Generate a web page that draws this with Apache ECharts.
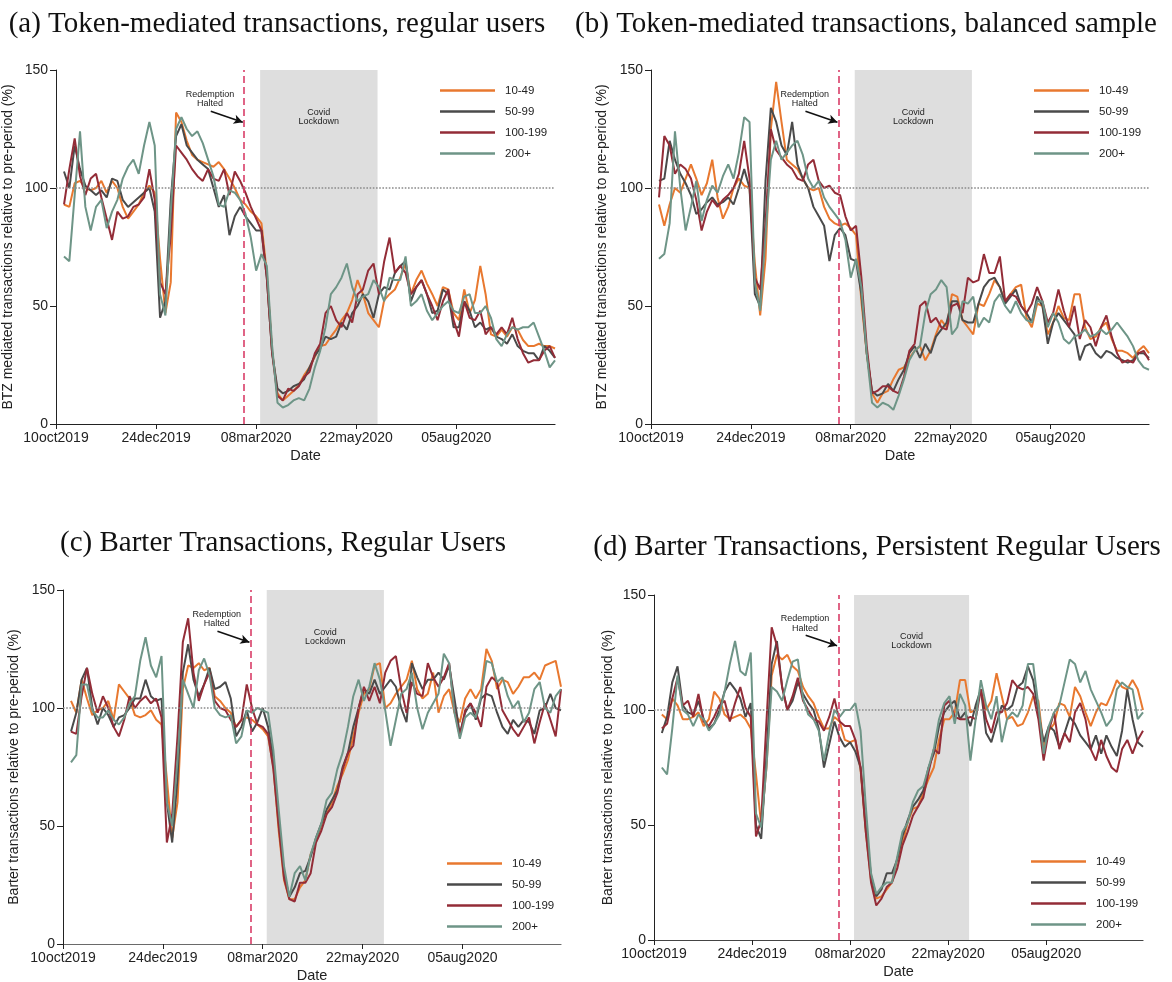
<!DOCTYPE html>
<html>
<head>
<meta charset="utf-8">
<title>BTZ and barter transactions by user group</title>
<script src="https://cdn.jsdelivr.net/npm/echarts@6/dist/echarts.min.js"></script>
<style>
  html, body { margin: 0; padding: 0; background: #ffffff; }
  #chart { width: 1172px; height: 982px; }
</style>
</head>
<body>
<div id="chart"></div>
<script>
// ---------------------------------------------------------------------------
// Data: 7-day smoothed activity relative to the pre-period (%), one value
// every 4 days starting 16 Oct 2019, for four user groups.
// ---------------------------------------------------------------------------
const AXIS_ORIGIN = '2019-10-10';
const FIRST_SAMPLE = '2019-10-16';
const SAMPLE_STEP_DAYS = 4;

const SERIES_NAMES = ['10-49', '50-99', '100-199', '200+'];

const xTickLabels = ['10oct2019', '24dec2019', '08mar2020', '22may2020', '05aug2020'];
const xTickDates  = ['2019-10-10', '2019-12-24', '2020-03-08', '2020-05-22', '2020-08-05'];
const yTicks = [0, 50, 100, 150];

const REDEMPTION_HALTED = '2020-02-28';
const LOCKDOWN_START = '2020-03-11';
const LOCKDOWN_END = '2020-06-07';
const BASELINE = 100;

// (a) Token-mediated transactions, regular users
const tokenRegular10to49 = [
  93, 92, 102, 103, 100, 99, 100, 103, 98, 103,
  100, 92, 87, 90, 93, 98, 101, 98, 70, 47,
  60, 132, 128, 120, 114, 112, 111, 110, 109,
  111, 108, 104, 100, 95, 93, 90, 88, 85,
  64, 31, 13, 10, 12, 14, 16.5, 20.7, 24, 28.5, 33, 33.6, 37, 40, 44, 47, 52.5, 61, 55, 47, 44,
  41, 52.5, 55, 57, 62, 68, 55, 61, 65, 59.5, 55, 50, 58, 57, 47, 44, 57, 47, 52.5, 67,
  55, 38, 37, 40, 37, 41, 40, 35.6, 33, 33, 34, 33, 33, 32
];
const tokenRegular50to99 = [
  107, 100, 118, 108, 101, 99, 97, 99, 96, 104,
  103, 95, 92, 94, 96, 98, 100, 90, 45, 52,
  95, 122, 127, 118, 115, 112, 110, 108, 100,
  92, 97, 80, 88, 92, 88, 85, 82, 82,
  62, 30, 15, 13, 14, 16, 17, 19, 24, 29, 32, 37, 36, 37, 43, 40, 47, 50, 55, 52, 45,
  55, 58, 57, 64, 67, 69, 52, 58, 61, 55, 47, 48, 57, 55, 41, 41, 52, 48, 41, 43,
  40, 41, 37, 36, 34, 38, 33, 31, 30, 30, 27, 33, 31, 28
];
const tokenRegular100to199 = [
  93, 108, 121, 105, 97, 104, 106, 96, 87, 78,
  90, 87, 88, 92, 93, 96, 108, 95, 60, 55,
  80, 118, 115, 112, 108, 105, 103, 108, 104,
  103, 108, 97, 107, 103, 98, 92, 87, 82,
  62, 30, 12, 10, 15, 14, 16, 20, 22, 30, 34, 47, 50, 44, 41, 47, 43, 55, 57, 65, 68,
  55, 69, 79, 64, 67, 64, 55, 58, 61, 55, 50, 44, 52, 57, 44, 37, 52, 45, 44, 48,
  38, 41, 38, 41, 38, 45, 36, 30, 26, 27, 27, 31, 33, 28
];
const tokenRegular200plus = [
  71, 69, 97, 124, 92, 82, 92, 95, 83, 90,
  95, 104, 109, 112, 106, 118, 128, 118, 55, 46,
  90, 125, 130, 125, 122, 124, 119, 112, 105,
  93, 92, 99, 98, 95, 89, 79, 65, 72,
  67, 33, 9, 7, 8, 10, 11, 10, 15, 24, 31, 41, 55, 58, 62, 68, 58, 52, 54, 55, 61,
  58, 52, 62, 61, 61, 71, 50, 52, 55, 48, 44, 47, 50, 52, 48, 47, 54, 55, 47, 47,
  50, 45, 36, 33, 38, 41, 40, 41, 41, 43, 37, 31, 24, 27
];

// (b) Token-mediated transactions, balanced sample
const tokenBalanced10to49 = [
  93, 84, 93, 100, 98, 104, 110, 104, 97, 102,
  112, 96, 87, 92, 100, 104, 101, 100, 68, 46,
  70, 125, 145, 128, 112, 110, 108, 104, 100, 99,
  100, 92, 87, 85, 84, 85, 83, 80,
  52, 30, 13, 9, 13, 14, 19, 23, 24, 28,
  31, 33, 27, 31, 38, 44, 41, 55, 54, 44,
  41, 38, 51, 50, 55, 61, 58, 52, 55, 58,
  59, 45, 41, 51, 50, 38, 43, 50, 45, 44,
  55, 55, 41, 36, 37, 41, 43, 36, 31, 31,
  30, 28, 31, 33, 30
];
const tokenBalanced50to99 = [
  103, 104, 120, 112, 106, 102, 97, 89, 91, 94,
  96, 93, 94, 96, 93, 100, 108, 100, 55, 50,
  103, 134, 128, 118, 114, 128, 110, 104, 100, 92,
  88, 84, 69, 80, 83, 80, 70, 69,
  55, 30, 14, 12, 13, 17, 14, 19, 23, 30,
  33, 28, 34, 30, 37, 40, 43, 52, 52, 44,
  43, 43, 51, 58, 61, 62, 58, 51, 54, 57,
  50, 47, 43, 54, 50, 34, 43, 47, 44, 41,
  38, 27, 33, 34, 30, 28, 31, 30, 28, 27,
  26, 27, 30, 30, 28
];
const tokenBalanced100to199 = [
  96, 122, 118, 106, 110, 108, 104, 95, 82, 90,
  95, 92, 95, 97, 100, 106, 120, 104, 62, 57,
  85, 125, 116, 113, 110, 108, 104, 103, 110, 112,
  103, 100, 101, 98, 97, 88, 82, 84,
  62, 33, 13, 14, 16, 16, 14, 13, 20, 31,
  34, 50, 52, 43, 45, 41, 40, 50, 51, 47,
  62, 60, 61, 72, 64, 64, 71, 52, 55, 54,
  50, 47, 51, 58, 52, 43, 47, 57, 48, 41,
  50, 36, 44, 41, 33, 41, 46, 37, 30, 26,
  27, 26, 30, 31, 27
];
const tokenBalanced200plus = [
  70, 72, 85, 124, 100, 82, 92, 103, 86, 95,
  101, 98, 105, 110, 104, 115, 130, 128, 60, 48,
  80, 112, 120, 112, 115, 118, 120, 114, 104, 100,
  103, 96, 92, 89, 86, 78, 62, 70,
  58, 30, 9, 7, 9, 8, 6, 12, 19, 27,
  31, 33, 47, 55, 57, 61, 58, 38, 41, 52,
  51, 54, 41, 45, 43, 52, 55, 50, 47, 52,
  47, 44, 43, 52, 52, 41, 47, 43, 36, 34,
  37, 38, 40, 37, 38, 40, 38, 40, 43, 40,
  37, 33, 27, 24, 23
];

// (c) Barter transactions, regular users
const barterRegular10to49 = [
  103, 98, 112, 104, 97, 99, 100, 103, 95, 110,
  107, 104, 97, 96, 97, 99, 95, 93, 70, 45,
  60, 108, 118, 117, 119, 116, 117, 105, 103, 100,
  98, 92, 95, 96, 95, 93, 91, 88,
  75, 48, 27, 19, 19, 24, 27, 38, 44, 50,
  55, 60, 67, 72, 78, 88, 98, 106, 108, 118,
  119, 100, 102, 106, 109, 112, 120, 108, 104, 106,
  115, 98, 105, 108, 98, 94, 104, 108, 104, 108,
  125, 120, 108, 112, 111, 106, 109, 113, 113, 115,
  112, 118, 119, 120, 109
];
const barterRegular50to99 = [
  90, 98, 112, 117, 100, 93, 100, 97, 92, 96,
  97, 100, 104, 104, 112, 105, 103, 104, 60, 43,
  70, 115, 127, 112, 105, 110, 117, 108, 109, 111,
  104, 88, 92, 99, 90, 94, 100, 92,
  79, 52, 30, 20, 24, 30, 31, 37, 45, 51,
  57, 61, 65, 75, 81, 92, 100, 108, 106, 112,
  106, 109, 112, 109, 100, 94, 119, 113, 108, 112,
  112, 115, 112, 118, 104, 89, 98, 102, 95, 104,
  106, 105, 98, 92, 89, 95, 92, 95, 94, 89,
  99, 100, 106, 100, 99
];
const barterRegular100to199 = [
  90, 89, 105, 117, 106, 98, 105, 100, 92, 88,
  95, 105, 100, 103, 105, 102, 104, 96, 43, 55,
  88, 128, 138, 115, 103, 110, 115, 103, 100, 99,
  95, 92, 95, 110, 100, 93, 92, 89,
  74, 50, 28, 19, 18, 26, 26, 30, 43, 48,
  55, 58, 64, 74, 81, 84, 100, 109, 103, 109,
  102, 115, 120, 122, 108, 98, 111, 106, 105, 119,
  113, 109, 113, 119, 99, 88, 99, 102, 98, 92,
  109, 113, 111, 99, 95, 91, 88, 92, 96, 85,
  94, 102, 95, 88, 108
];
const barterRegular200plus = [
  77, 80, 110, 110, 99, 96, 96, 99, 95, 93,
  96, 102, 105, 120, 130, 118, 113, 122, 60, 50,
  78, 112, 106, 100, 116, 121, 114, 100, 97, 96,
  97, 85, 88, 99, 98, 100, 99, 98,
  82, 57, 33, 20, 30, 33, 27, 38, 45, 51,
  61, 64, 74, 81, 92, 105, 112, 103, 109, 119,
  112, 99, 84, 95, 106, 108, 115, 100, 91, 98,
  102, 106, 123, 119, 98, 87, 96, 98, 96, 105,
  120, 119, 111, 113, 105, 100, 103, 94, 98, 108,
  111, 100, 98, 105, 108
];

// (d) Barter transactions, persistent regular users
const barterPersistent10to49 = [
  98, 96, 105, 102, 96, 96, 97, 99, 93, 96,
  108, 105, 98, 96, 97, 98, 96, 92, 72, 50,
  75, 115, 124, 122, 124, 119, 117, 110, 106, 103,
  97, 92, 92, 97, 95, 87, 86, 87,
  74, 47, 26, 18, 19, 22, 25, 35, 42, 51,
  57, 58, 64, 70, 75, 87, 96, 96, 99, 113,
  113, 99, 100, 109, 100, 104, 116, 106, 96, 97,
  93, 94, 99, 106, 104, 84, 91, 94, 103, 102,
  97, 110, 106, 99, 93, 99, 103, 102, 107, 113,
  110, 109, 113, 109, 100
];
const barterPersistent50to99 = [
  90, 97, 112, 119, 102, 99, 98, 104, 96, 92,
  94, 100, 108, 112, 109, 105, 97, 103, 50, 44,
  80, 120, 130, 110, 100, 104, 112, 107, 103, 100,
  92, 75, 85, 95, 88, 84, 86, 82,
  75, 49, 28, 19, 22, 29, 29, 35, 45, 52,
  58, 61, 65, 75, 81, 93, 99, 102, 104, 96,
  99, 93, 102, 109, 90, 86, 94, 102, 100, 102,
  110, 112, 119, 113, 99, 86, 93, 91, 84, 90,
  97, 94, 89, 86, 83, 89, 81, 89, 84, 80,
  91, 109, 96, 86, 84
];
const barterPersistent100to199 = [
  92, 94, 105, 114, 102, 104, 97, 107, 95, 93,
  97, 102, 104, 95, 103, 110, 101, 97, 45, 52,
  95, 136, 128, 110, 100, 106, 114, 104, 100, 96,
  95, 91, 97, 105, 95, 93, 93, 87,
  75, 47, 25, 15, 18, 23, 25, 31, 41, 47,
  54, 58, 62, 73, 83, 81, 102, 104, 97, 96,
  96, 97, 96, 109, 96, 90, 99, 99, 103, 113,
  110, 109, 110, 107, 96, 78, 91, 99, 83, 90,
  86, 99, 103, 96, 83, 78, 87, 80, 75, 73,
  83, 87, 81, 87, 91
];
const barterPersistent200plus = [
  75, 72, 92, 115, 100, 98, 93, 98, 96, 91,
  94, 98, 108, 120, 130, 117, 115, 125, 55, 49,
  75, 110, 108, 104, 113, 121, 122, 105, 98, 96,
  91, 78, 90, 100, 97, 100, 100, 103,
  91, 58, 29, 20, 23, 25, 25, 36, 47, 51,
  60, 65, 67, 75, 83, 96, 103, 106, 94, 107,
  102, 78, 96, 113, 102, 96, 106, 86, 96, 99,
  97, 102, 120, 120, 102, 81, 93, 99, 102, 112,
  122, 120, 112, 117, 109, 104, 99, 93, 96, 109,
  112, 110, 109, 96, 99
];

// ---------------------------------------------------------------------------
// Helpers
// ---------------------------------------------------------------------------
const DAY_MS = 86400000;
function dayOf(iso) {
  const [y, m, d] = iso.split('-').map(Number);
  const [y0, m0, d0] = AXIS_ORIGIN.split('-').map(Number);
  return Math.round((Date.UTC(y, m - 1, d) - Date.UTC(y0, m0 - 1, d0)) / DAY_MS);
}

const firstDay = dayOf(FIRST_SAMPLE);
const sampleDays = tokenRegular10to49.map((_, i) => firstDay + i * SAMPLE_STEP_DAYS);
const lastDay = sampleDays[sampleDays.length - 1];
const xTickDays = xTickDates.map(dayOf);
const haltDay = dayOf(REDEMPTION_HALTED);
const lockStart = dayOf(LOCKDOWN_START);
const lockEnd = dayOf(LOCKDOWN_END);

function toPairs(values) {
  return values.map((v, i) => [sampleDays[i], v]);
}

// ---------------------------------------------------------------------------
// Styling and layout
// ---------------------------------------------------------------------------
const LINE_COLORS = ['#E8782F', '#4A4A4A', '#932C37', '#6E9587'];
const SANS = '"Liberation Sans", Arial, Helvetica, sans-serif';
const SERIF = '"Liberation Serif", "Times New Roman", serif';

const panels = [
  {
    title: '(a) Token-mediated transactions, regular users',
    titlePos: { x: 277, y: 10 },
    yName: 'BTZ mediated transactions relative to pre-period (%)',
    grid: { left: 56, top: 70, width: 499, height: 354 },
    nameGap: 41,
    legendPos: { left: 435, top: 78 },
    xAxisColor: '#222',
    values: [tokenRegular10to49, tokenRegular50to99, tokenRegular100to199, tokenRegular200plus]
  },
  {
    title: '(b) Token-mediated transactions, balanced sample',
    titlePos: { x: 866, y: 10 },
    yName: 'BTZ mediated transactions relative to pre-period (%)',
    grid: { left: 651, top: 70, width: 498, height: 354 },
    nameGap: 42,
    legendPos: { left: 1029, top: 78 },
    xAxisColor: '#222',
    values: [tokenBalanced10to49, tokenBalanced50to99, tokenBalanced100to199, tokenBalanced200plus]
  },
  {
    title: '(c) Barter Transactions, Regular Users',
    titlePos: { x: 283, y: 529 },
    yName: 'Barter transactions relative to pre-period (%)',
    grid: { left: 63, top: 590, width: 498, height: 354 },
    nameGap: 42,
    legendPos: { left: 442, top: 851 },
    xAxisColor: '#6a6a6a',
    values: [barterRegular10to49, barterRegular50to99, barterRegular100to199, barterRegular200plus]
  },
  {
    title: '(d) Barter Transactions, Persistent Regular Users',
    titlePos: { x: 877, y: 533 },
    yName: 'Barter transactions relative to pre-period (%)',
    grid: { left: 654, top: 595, width: 489, height: 345 },
    nameGap: 39,
    legendPos: { left: 1026, top: 849 },
    xAxisColor: '#444',
    values: [barterPersistent10to49, barterPersistent50to99, barterPersistent100to199, barterPersistent200plus]
  }
];

const option = {
  animation: false,
  backgroundColor: '#ffffff',
  textStyle: { fontFamily: SANS },
  title: [],
  legend: [],
  grid: [],
  xAxis: [],
  yAxis: [],
  series: []
};

panels.forEach((p, i) => {
  option.title.push({
    text: p.title,
    left: p.titlePos.x,
    top: p.titlePos.y,
    textAlign: 'center',
    padding: 0,
    textStyle: { fontFamily: SERIF, fontSize: 29, fontWeight: 'normal', color: '#111' }
  });

  option.grid.push(Object.assign({ containLabel: false, outerBoundsMode: 'none' }, p.grid));

  option.xAxis.push({
    gridIndex: i,
    type: 'value',
    min: 0,
    max: lastDay,
    name: 'Date',
    nameLocation: 'middle',
    nameGap: 24,
    nameTextStyle: { fontSize: 14.5, color: '#222', fontFamily: SANS },
    axisLine: { show: true, onZero: false, lineStyle: { color: p.xAxisColor, width: 1.2 } },
    axisTick: { show: true, length: 5, customValues: xTickDays, lineStyle: { color: '#222', width: 1 } },
    axisLabel: {
      customValues: xTickDays,
      formatter: v => xTickLabels[xTickDays.indexOf(v)] || '',
      fontSize: 14, color: '#222', margin: 7, fontFamily: SANS
    },
    splitLine: { show: false }
  });

  option.yAxis.push({
    gridIndex: i,
    type: 'value',
    min: yTicks[0],
    max: yTicks[yTicks.length - 1],
    interval: yTicks[1] - yTicks[0],
    name: p.yName,
    nameLocation: 'middle',
    nameRotate: 90,
    nameGap: p.nameGap,
    nameTextStyle: { fontSize: 14, color: '#222', fontFamily: SANS },
    axisLine: { show: true, onZero: false, lineStyle: { color: '#222', width: 1 } },
    axisTick: { show: true, length: 6, lineStyle: { color: '#222', width: 1 } },
    axisLabel: { fontSize: 14, color: '#222', margin: 8, fontFamily: SANS },
    splitLine: { show: false }
  });

  option.legend.push({
    left: p.legendPos.left,
    top: p.legendPos.top,
    orient: 'vertical',
    icon: 'rect',
    itemWidth: 55,
    itemHeight: 2.5,
    itemGap: 6,
    selectedMode: false,
    data: SERIES_NAMES,
    textStyle: { fontSize: 11.5, color: '#222', lineHeight: 15, padding: [0, 0, 0, 5], fontFamily: SANS }
  });

  // Reference lines, lockdown band and annotations for this panel
  option.series.push({
    type: 'line',
    name: 'markers-' + i,
    xAxisIndex: i,
    yAxisIndex: i,
    data: [],
    silent: true,
    z: 1,
    markArea: {
      silent: true,
      itemStyle: { color: '#DEDEDE' },
      label: { show: false },
      data: [[{ xAxis: lockStart }, { xAxis: lockEnd }]]
    },
    markLine: {
      silent: true,
      symbol: ['none', 'none'],
      label: { show: false },
      data: [
        { yAxis: BASELINE, lineStyle: { type: 'dotted', color: '#8a8a8a', width: 1.6 } },
        { xAxis: haltDay, lineStyle: { type: [7, 4], color: '#D93E68', width: 1.6 } },
        [
          { coord: [116, 132.5], symbol: 'none', lineStyle: { type: 'solid', color: '#111', width: 1.6 } },
          { coord: [140, 127.9], symbol: 'arrow', symbolSize: [7, 9], lineStyle: { type: 'solid', color: '#111', width: 1.6 } }
        ]
      ]
    },
    markPoint: {
      silent: true,
      symbol: 'circle',
      symbolSize: 1,
      itemStyle: { color: 'rgba(0,0,0,0)' },
      label: {
        show: true, position: 'inside', fontSize: 9, lineHeight: 9.5,
        color: '#222', fontFamily: SANS, formatter: q => q.name
      },
      data: [
        { name: 'Redemption\nHalted', coord: [115.5, 137.7] },
        { name: 'Covid\nLockdown', coord: [197, 130] }
      ]
    }
  });

  p.values.forEach((vals, k) => {
    option.series.push({
      type: 'line',
      name: SERIES_NAMES[k],
      xAxisIndex: i,
      yAxisIndex: i,
      data: toPairs(vals),
      symbol: 'none',
      showSymbol: false,
      silent: true,
      z: 3,
      color: LINE_COLORS[k],
      itemStyle: { color: LINE_COLORS[k] },
      lineStyle: { color: LINE_COLORS[k], width: 2 }
    });
  });
});

const chart = echarts.init(document.getElementById('chart'), null, { renderer: 'canvas' });
chart.setOption(option);
</script>
</body>
</html>
